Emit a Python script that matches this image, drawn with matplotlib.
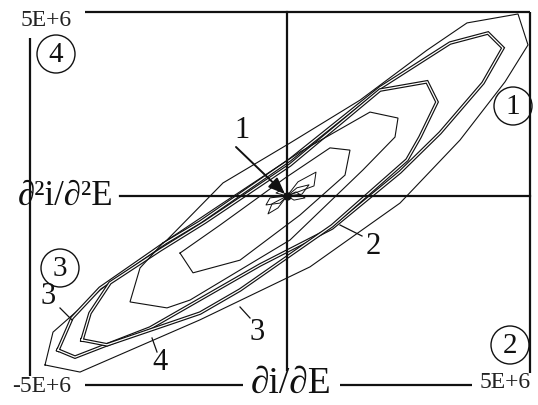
import matplotlib
matplotlib.use("Agg")
import matplotlib.pyplot as plt
import numpy as np
from matplotlib.patches import Ellipse
import matplotlib.patheffects as pe

W, H = 538, 405
# crossing of the derivative axes (figure pixels) and pixels per 1E+6
X0, Y0 = 287, 196
SX, SY = 50.0, 37.3


def px(x, y):
    return (x - X0) / SX, (Y0 - y) / SY


# phase-plane loops, values in units of 1E+6
loop4_x = [-4.84, -4.68, -4.18, -3.74, -2.54, -1.28, 0.06, 1.46, 2.80, 3.60, 4.62, 4.82,
           4.36, 3.46, 2.26, 0.46, -1.74, -4.14]
loop4_y = [-4.53, -3.65, -3.06, -2.52, -1.37, 0.35, 1.42, 2.57, 3.91, 4.64, 4.88, 4.05,
           3.06, 1.50, -0.19, -1.90, -3.32, -4.72]

loop3_x = [-4.58, -4.30, -3.74, -2.44, -1.74, 0.06, 1.86, 3.26, 4.02, 4.32, 3.92, 3.06,
           2.26, 0.90, -0.54, -2.74, -4.24]
loop3_y = [-4.13, -3.27, -2.47, -1.26, -0.70, 0.97, 2.90, 4.10, 4.37, 3.97, 3.03, 1.69,
           0.64, -0.86, -1.85, -3.54, -4.32]

loop2_x = [-4.10, -3.94, -3.54, -2.54, -1.64, 0.06, 1.86, 2.80, 3.00, 2.66, 2.40, 0.90,
           -0.94, -1.74, -3.60]
loop2_y = [-3.86, -3.14, -2.33, -1.45, -0.70, 0.83, 2.84, 3.06, 2.52, 1.58, 0.97, -0.80,
           -2.52, -3.14, -3.99]

loopD_x = [-2.48, -2.94, -3.14, -2.40, -1.94, 0.06, 1.52, 2.16, 2.22, 1.66, 0.26, -1.34]
loopD_y = [-1.26, -1.93, -2.84, -3.00, -2.79, -1.18, 0.70, 1.58, 2.09, 2.25, 1.18, -0.24]

loopE_x = [-2.14, -1.88, -0.94, 0.26, 1.16, 1.26, 0.86, -0.04, -1.34]
loopE_y = [-1.53, -2.06, -1.72, -0.51, 0.56, 1.23, 1.29, 0.48, -0.78]

# small loops of curve 1 around the origin
petal_x = [[0, 0.22, 0.58, 0.54], [0, -0.34, -0.42, -0.14], [0, -0.18, -0.38, -0.30],
           [0, 0.18, 0.36, 0.14], [0, -0.12, -0.22, -0.05], [0, 0.30, 0.44, 0.20]]
petal_y = [[0, 0.38, 0.64, 0.27], [0, -0.05, -0.24, -0.19], [0, -0.32, -0.48, -0.21],
           [0, 0.11, -0.05, -0.11], [0, 0.16, 0.08, 0.02], [0, 0.05, 0.30, 0.22]]

plt.rcParams['font.family'] = ['Liberation Serif', 'DejaVu Serif']

fig = plt.figure(figsize=(W / 100, H / 100), dpi=100)
ax = fig.add_axes([0, 0, 1, 1])
ax.set_xlim(px(0, 0)[0], px(W, 0)[0])
ax.set_ylim(px(0, H)[1], px(0, 0)[1])
ax.axis('off')

K = '#111111'


def closed(x, y):
    return np.r_[x, x[0]], np.r_[y, y[0]]


double = [pe.Stroke(linewidth=2.6, foreground=K), pe.Stroke(linewidth=0.9, foreground='white')]

for lx, ly, dbl in [(loop4_x, loop4_y, False), (loop3_x, loop3_y, True),
                    (loop2_x, loop2_y, True), (loopD_x, loopD_y, False),
                    (loopE_x, loopE_y, False)]:
    cx, cy = closed(lx, ly)
    line, = ax.plot(cx, cy, color=K, lw=0.8, solid_joinstyle='miter')
    if dbl:
        line.set_path_effects(double)

for lx, ly in zip(petal_x, petal_y):
    cx, cy = closed(lx, ly)
    ax.plot(cx, cy, color=K, lw=0.7)
ax.plot([0], [0], 'o', color=K, ms=5)

# axes through the origin
ax.plot([0, 0], [px(0, 12)[1], px(0, 370)[1]], color=K, lw=1.6)
ax.plot([px(120, 0)[0], px(530, 0)[0]], [0, 0], color=K, lw=1.6)

# outer frame
frame_kw = dict(color=K, lw=1.6, solid_capstyle='butt')
ax.plot(*zip(px(85, 12), px(530, 12)), **frame_kw)
ax.plot(*zip(px(530, 12), px(530, 373)), **frame_kw)
ax.plot(*zip(px(30, 38), px(30, 376)), **frame_kw)
ax.plot(*zip(px(85, 385), px(243, 385)), **frame_kw)
ax.plot(*zip(px(340, 385), px(472, 385)), **frame_kw)

# scale marks
tkw = dict(fontsize=17, ha='center', va='center', color='#222222')
ax.text(*px(46, 21), '5E+6', **tkw)
ax.text(*px(42, 387), '-5E+6', **tkw)
ax.text(*px(505, 383), '5E+6', **tkw)

# axis titles
ax.text(*px(66, 196), '∂²i/∂²E', fontsize=25, ha='center', va='center', color=K)
ax.text(*px(291, 384), '∂i/∂E', fontsize=27, ha='center', va='center', color=K)

# quadrant numbers
for (cxp, cyp), lab in [((56, 54), '4'), ((513, 106), '1'), ((60, 268), '3'), ((510, 345), '2')]:
    ax.add_artist(Ellipse(px(cxp, cyp), 38 / SX, 38 / SY, fill=False, lw=1.0, color=K))
    ax.text(*px(cxp, cyp + 1), lab, fontsize=21, ha='center', va='center', color=K)

# curve labels with leaders
lkw = dict(fontsize=22, ha='center', va='center', color=K)
ax.text(*px(48, 296), '3', **lkw)
ax.plot(*zip(px(60, 308), px(72, 320)), color=K, lw=0.9)
ax.text(*px(160, 363), '4', **lkw)
ax.plot(*zip(px(152, 338), px(157, 352)), color=K, lw=0.9)
ax.text(*px(257, 333), '3', **lkw)
ax.plot(*zip(px(240, 307), px(250, 318)), color=K, lw=0.9)
ax.text(*px(373, 246), '2', **lkw)
ax.plot(*zip(px(340, 225), px(362, 236)), color=K, lw=0.9)
ax.text(*px(242, 131), '1', **lkw)
ax.annotate('', xy=(0, 0), xytext=px(236, 147),
            arrowprops=dict(arrowstyle='-|>,head_length=1.0,head_width=0.4', color=K, lw=1.4,
                            shrinkA=0, shrinkB=2))

fig.savefig('out.png', dpi=100, facecolor='white')
